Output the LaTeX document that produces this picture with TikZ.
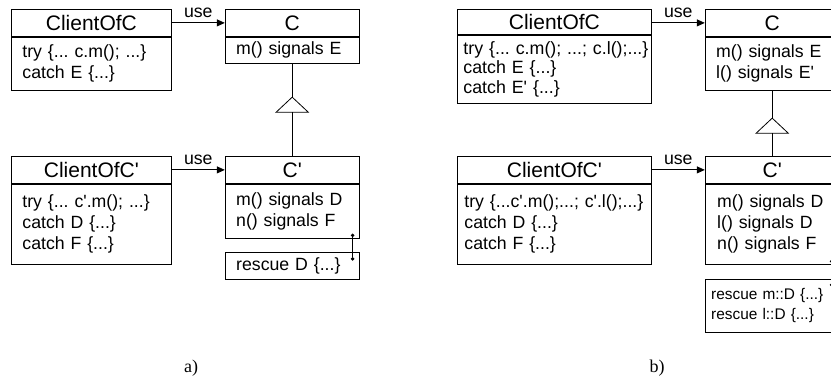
\documentclass[tikz,border=0pt]{standalone}
\usepackage{fontspec}
\setmainfont{Liberation Sans}[Ligatures=TeXOff]
\newfontfamily\capfont{Liberation Serif}
\usetikzlibrary{arrows.meta,positioning,calc}

\newcommand{\headfont}{\fontsize{21}{24}\selectfont}
\newcommand{\bodyfont}{\fontsize{17.7}{21}\selectfont}
\newcommand{\rescuefont}{\fontsize{15.4}{20}\selectfont}
\frenchspacing

\begin{document}
\begin{tikzpicture}[x=1pt, y=1pt, line width=0.8pt, node distance=53pt,
  >={Triangle[length=8pt,width=7pt]},
  classhead/.style={draw, minimum height=27pt, inner sep=0pt, font=\headfont},
  classbody/.style={draw, align=left, inner xsep=11pt, inner ysep=0pt, font=\bodyfont},
  inherit/.style={-{Triangle[open, length=16pt, width=34pt]}},
  rescue/.style={{Circle[length=3.5pt]}-{Circle[length=3.5pt]}},
  uselabel/.style={midway, above, inner sep=5pt, font=\bodyfont}]
  \useasboundingbox (0,0) rectangle (831,-382);
  \clip (0,0) rectangle (831,-382);

  % a) one handler in the subclass
  \node[classhead, minimum width=160pt, anchor=north west] (ClientOfC) at (11,-9) {ClientOfC};
  \node[classbody, text width=138pt, minimum height=53pt] (ClientOfCBody) [below=0pt of ClientOfC]
    {try \{... c.m(); ...\}\\catch E \{...\}};
  \node[classhead, minimum width=134pt] (C) [right=of ClientOfC] {C};
  \node[classbody, text width=112pt, minimum height=26pt] (CBody) [below=0pt of C] {m() signals E};

  \node[classhead, minimum width=160pt, anchor=north west] (ClientOfCp) at (11,-156) {ClientOfC'};
  \node[classbody, text width=138pt, minimum height=80pt] (ClientOfCpBody) [below=0pt of ClientOfCp]
    {try \{... c'.m(); ...\}\\catch D \{...\}\\catch F \{...\}};
  \node[classhead, minimum width=134pt] (Cp) [right=of ClientOfCp] {C'};
  \node[classbody, text width=112pt, minimum height=54pt] (CpBody) [below=0pt of Cp]
    {m() signals D\\n() signals F};
  \node[classbody, text width=112pt, minimum height=27pt] (Rescue) [below=13pt of CpBody] {rescue D \{...\}};

  \draw[->] (ClientOfC) -- (C) node[uselabel] {use};
  \draw[->] (ClientOfCp) -- (Cp) node[uselabel] {use};
  \coordinate[below=33pt of CBody] (tip);
  \draw[inherit] (Cp) -- (tip);
  \draw (tip) -- (CBody);
  \coordinate (hookA) at ($(CpBody.south east)+(-7,5)$);
  \coordinate (hookB) at ($(Rescue.north east)+(-7,-9)$);
  \draw[rescue] (hookA) -- (hookB);

  % b) per-method handlers
  \node[classhead, minimum width=194pt, minimum height=25pt, anchor=north west] (ClientOfC2) at (457,-9) {ClientOfC};
  \node[classbody, inner xsep=6pt, text width=182pt, minimum height=68pt, font=\fontsize{17.8}{19.5}\selectfont]
    (ClientOfC2Body) [below=0pt of ClientOfC2]
    {\mbox{try \{... c.m(); ...; c.l();...\}}\\catch E \{...\}\\catch E' \{...\}};
  \node[classhead, minimum width=134pt] (C2) [right=of ClientOfC2, yshift=-1pt] {C};
  \node[classbody, text width=112pt, minimum height=53pt] (C2Body) [below=0pt of C2]
    {m() signals E\\l() signals E'};

  \node[classhead, minimum width=194pt, anchor=north west] (ClientOfCp2) at (457,-156) {ClientOfC'};
  \node[classbody, inner xsep=7pt, text width=180pt, minimum height=80pt] (ClientOfCp2Body) [below=0pt of ClientOfCp2]
    {try \{...c'.m();...; c'.l();...\}\\catch D \{...\}\\catch F \{...\}};
  \node[classhead, minimum width=134pt] (Cp2) [right=of ClientOfCp2] {C'};
  \node[classbody, inner xsep=12pt, text width=110pt, minimum height=80pt] (Cp2Body) [below=0pt of Cp2]
    {m() signals D\\l() signals D\\n() signals F};
  \node[classbody, inner xsep=6pt, text width=122pt, minimum height=53pt, font=\rescuefont]
    (Rescue2) [below=14pt of Cp2Body] {rescue m::D \{...\}\\rescue l::D \{...\}};

  \draw[->] (ClientOfC2.east |- C2) -- (C2) node[uselabel] {use};
  \draw[->] (ClientOfCp2) -- (Cp2) node[uselabel] {use};
  \coordinate[below=27pt of C2Body] (tip2);
  \draw[inherit] (Cp2) -- (tip2);
  \draw (tip2) -- (C2Body);
  \coordinate (hook2A) at ($(Cp2Body.south east)+(-8,5)$);
  \coordinate (hook2B) at ($(Rescue2.north east)+(-8,-8)$);
  \draw[rescue] (hook2A) -- (hook2B);

  % captions
  \node[font=\capfont\fontsize{18}{20}\selectfont] (capA) at (191,-368) {a)};
  \node[font=\capfont\fontsize{18}{20}\selectfont] (capB) at (657,-368) {b)};
\end{tikzpicture}
\end{document}
